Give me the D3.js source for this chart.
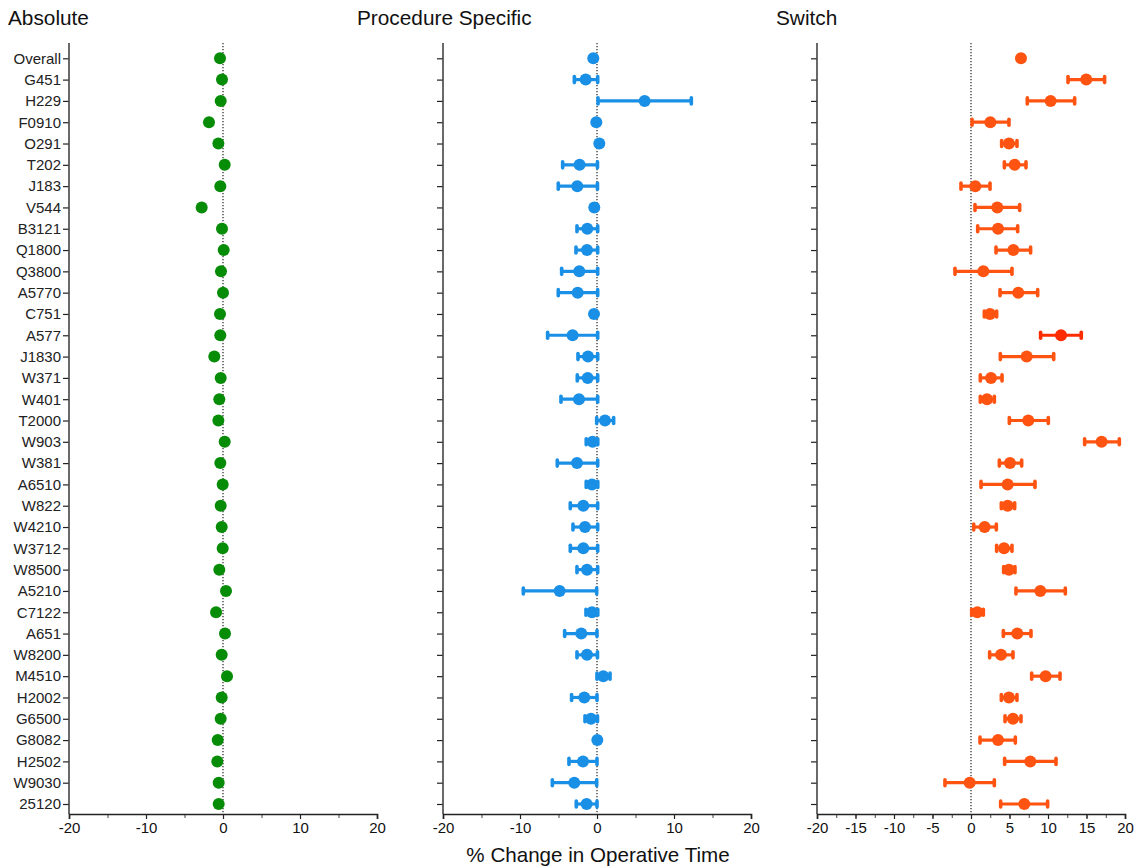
<!DOCTYPE html>
<html>
<head>
<meta charset="utf-8">
<script src="https://cdn.jsdelivr.net/npm/d3@7"></script>
<style>
  html, body { margin: 0; padding: 0; background: #fff; }
  svg { display: block; font-family: Arial, "Liberation Sans", sans-serif; }
</style>
</head>
<body>
<svg id="chart" width="1137" height="866"></svg>
<script>
// Procedure categories, top to bottom
const categories = ["Overall","G451","H229","F0910","O291","T202","J183","V544","B3121","Q1800",
  "Q3800","A5770","C751","A577","J1830","W371","W401","T2000","W903","W381","A6510","W822",
  "W4210","W3712","W8500","A5210","C7122","A651","W8200","M4510","H2002","G6500","G8082",
  "H2502","W9030","25120"];

// Absolute % change (point estimates)
const absoluteValues = [-0.39,-0.13,-0.3,-1.82,-0.6,0.22,-0.35,-2.77,-0.13,0.09,
  -0.26,0.0,-0.39,-0.35,-1.13,-0.3,-0.48,-0.6,0.22,-0.35,-0.04,-0.3,
  -0.17,-0.04,-0.48,0.39,-0.9,0.26,-0.17,0.52,-0.17,-0.3,-0.69,
  -0.74,-0.56,-0.56];

// Procedure-specific % change with confidence limits
const procValues = [-0.48,-1.47,6.19,-0.09,0.3,-2.26,-2.56,-0.35,-1.26,-1.3,
  -2.3,-2.51,-0.39,-3.17,-1.17,-1.21,-2.34,1.04,-0.57,-2.6,-0.65,-1.78,
  -1.56,-1.78,-1.3,-4.85,-0.65,-2.04,-1.3,0.82,-1.65,-0.78,0.04,
  -1.82,-2.95,-1.35];
const procLower = [-0.8,-2.94,0.13,-0.4,0.0,-4.46,-5.03,-0.7,-2.6,-2.73,
  -4.59,-5.03,-0.7,-6.41,-2.47,-2.56,-4.68,-0.04,-1.4,-5.16,-1.4,-3.47,
  -3.12,-3.47,-2.6,-9.57,-1.43,-4.2,-2.6,0.0,-3.3,-1.56,-0.2,
  -3.64,-5.8,-2.69];
const procUpper = [-0.15,0.09,12.25,0.2,0.6,0.06,0.06,-0.05,0.09,0.09,
  0.09,0.09,-0.1,0.09,0.09,0.09,0.09,2.16,0.1,0.09,0.1,0.09,
  0.09,0.09,0.09,-0.04,0.1,0.0,0.06,1.69,0.0,0.06,0.3,
  0.0,-0.04,0.0];

// Switch % change with confidence limits
const switchValues = [6.49,14.97,10.34,2.51,4.93,5.67,0.56,3.42,3.51,5.5,
  1.6,6.14,2.47,11.69,7.23,2.6,2.08,7.44,16.96,5.06,4.76,4.76,
  1.77,4.29,4.93,9.0,0.82,6.01,3.9,9.69,4.93,5.45,3.51,
  7.7,-0.17,6.92];
const switchLower = [6.2,12.6,7.31,0.13,3.98,4.33,-1.3,0.52,0.87,3.25,
  -2.08,3.77,1.73,9.04,3.81,1.21,1.21,4.98,14.76,3.68,1.3,3.94,
  0.35,3.33,4.24,5.84,0.09,4.2,2.42,7.88,3.94,4.42,1.17,
  4.37,-3.38,3.85];
const switchUpper = [6.8,17.35,13.46,4.93,5.97,7.14,2.47,6.32,6.06,7.74,
  5.32,8.66,3.33,14.32,10.74,4.03,3.03,10.04,19.26,6.58,8.31,5.67,
  3.29,5.32,5.71,12.25,1.6,7.79,5.45,11.56,5.97,6.49,5.76,
  11.04,3.03,9.95];

const panelTitles = ["Absolute","Procedure Specific","Switch"];
const xTitle = "% Change in Operative Time";

const svg = d3.select("#chart");

const yTop = 43, yBottom = 814;
const y = d3.scalePoint().domain(categories).range([58.3, 804]);

const panels = [
  { title: panelTitles[0], x0: 69, x1: 377, titleX: 8, color: "#078c07",
    values: absoluteValues, lower: null, upper: null, major: 10, minor: 5 },
  { title: panelTitles[1], x0: 443, x1: 751, titleX: 357, color: "#1a8fe6",
    values: procValues, lower: procLower, upper: procUpper, major: 10, minor: 5 },
  { title: panelTitles[2], x0: 817, x1: 1125, titleX: 776, color: "#ff5311",
    values: switchValues, lower: switchLower, upper: switchUpper, major: 5, minor: 2.5 }
];

panels.forEach((p, pi) => {
  const x = d3.scaleLinear().domain([-20, 20]).range([p.x0, p.x1]);
  const g = svg.append("g");

  // panel title
  g.append("text")
    .attr("x", p.titleX).attr("y", 25)
    .attr("font-size", 20.8).attr("fill", "#111")
    .text(p.title);

  // zero reference line
  g.append("line")
    .attr("x1", x(0)).attr("x2", x(0))
    .attr("y1", yTop).attr("y2", yBottom)
    .attr("stroke", "#222").attr("stroke-width", 1.2)
    .attr("stroke-dasharray", "1.2,1.8");

  // y axis
  const yAxis = d3.axisLeft(y).tickSize(6).tickPadding(2)
    .tickFormat(pi === 0 ? (d => d) : () => "");
  const ya = g.append("g").attr("transform", `translate(${p.x0},0)`).call(yAxis);
  ya.select(".domain").remove();
  ya.selectAll(".tick line").attr("stroke", "#222").attr("stroke-width", 1.2);
  ya.selectAll(".tick text").attr("font-size", 15).attr("fill", "#222")
    .attr("font-family", "Arial, 'Liberation Sans', sans-serif");
  g.append("line")
    .attr("x1", p.x0).attr("x2", p.x0).attr("y1", yTop).attr("y2", yBottom)
    .attr("stroke", "#444").attr("stroke-width", 1.6);

  // x axis: minor ticks, then labelled major ticks
  const minorTicks = d3.range(-20, 20.001, p.minor);
  const xMinor = d3.axisBottom(x).tickValues(minorTicks).tickSize(4).tickFormat(() => "");
  const xm = g.append("g").attr("transform", `translate(0,${yBottom})`).call(xMinor);
  xm.selectAll(".tick line").attr("stroke", "#444").attr("stroke-width", 1);
  const majorTicks = d3.range(-20, 20.001, p.major);
  const xMajor = d3.axisBottom(x).tickValues(majorTicks).tickSize(5).tickPadding(3)
    .tickFormat(d3.format("d"));
  const xa = g.append("g").attr("transform", `translate(0,${yBottom})`).call(xMajor);
  xa.select(".domain").attr("stroke", "#222").attr("stroke-width", 1.6);
  xm.select(".domain").remove();
  xa.selectAll(".tick line").attr("stroke", "#222").attr("stroke-width", 1.2);
  xa.selectAll(".tick text").attr("font-size", 15).attr("fill", "#111")
    .attr("font-family", "Arial, 'Liberation Sans', sans-serif")
    .text(d => d < 0 ? "-" + Math.abs(d) : d);

  // error bars
  if (p.lower) {
    const rows = categories.map((c, i) => ({ c, i, v: p.values[i], lo: p.lower[i], hi: p.upper[i] }));
    const colorOf = d => (pi === 2 && d.c === "A577") ? "#ff2c00" : p.color;
    const eb = g.append("g").selectAll("g").data(rows).join("g");
    eb.append("line")
      .attr("x1", d => x(d.lo)).attr("x2", d => x(d.hi))
      .attr("y1", d => y(d.c)).attr("y2", d => y(d.c))
      .attr("stroke", colorOf).attr("stroke-width", 3.2);
    ["lo", "hi"].forEach(k => {
      eb.append("line")
        .attr("x1", d => x(d[k])).attr("x2", d => x(d[k]))
        .attr("y1", d => y(d.c) - 3).attr("y2", d => y(d.c) + 3)
        .attr("stroke", colorOf).attr("stroke-width", 3.6)
        .attr("stroke-linecap", "round");
    });
  }

  // point estimates
  g.append("g").selectAll("circle")
    .data(categories.map((c, i) => ({ c, v: p.values[i] })))
    .join("circle")
    .attr("cx", d => x(d.v)).attr("cy", d => y(d.c)).attr("r", 6)
    .attr("fill", d => (pi === 2 && d.c === "A577") ? "#ff2c00" : p.color);
});

// shared x-axis title
svg.append("text")
  .attr("x", 598).attr("y", 862)
  .attr("text-anchor", "middle")
  .attr("font-size", 20.6).attr("fill", "#111")
  .text(xTitle);
</script>
</body>
</html>
